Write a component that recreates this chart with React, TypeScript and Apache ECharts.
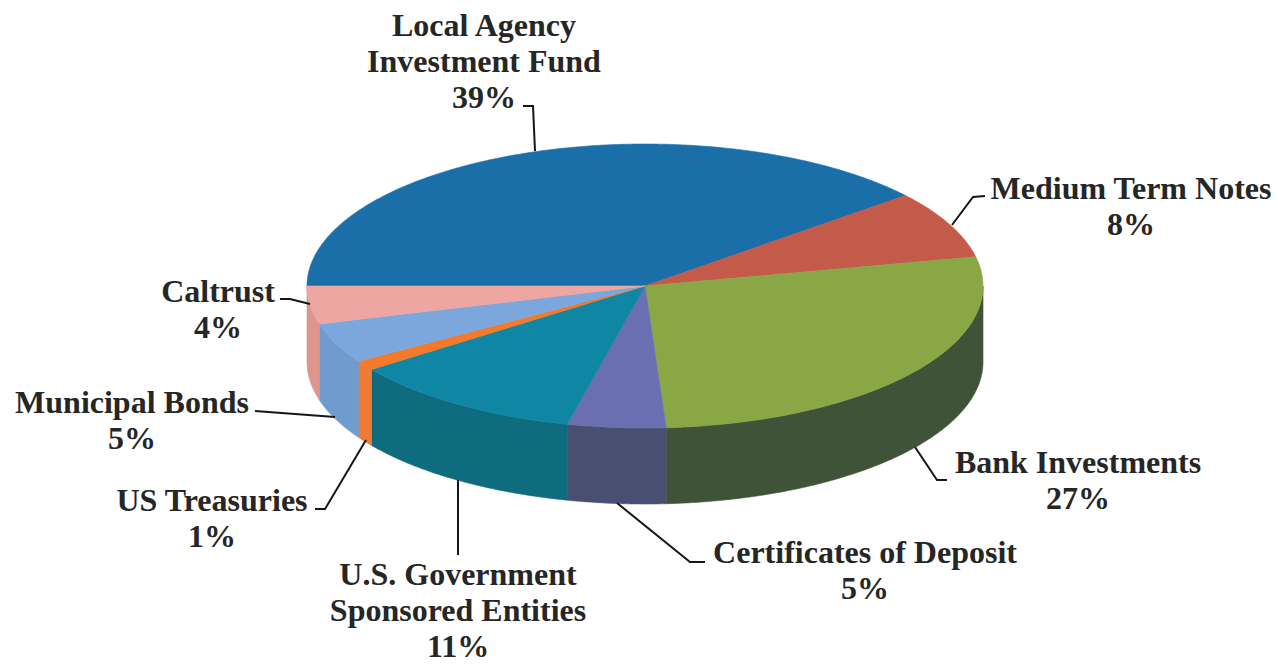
import React, { useEffect, useRef } from "react";
import * as echarts from "echarts";

const categories = [
  "Local Agency\nInvestment Fund",
  "Medium Term Notes",
  "Bank Investments",
  "Certificates of Deposit",
  "U.S. Government\nSponsored Entities",
  "US Treasuries",
  "Municipal Bonds",
  "Caltrust",
];
const shares = [39.0, 7.7, 27.3, 4.7, 11.3, 1.1, 4.6, 4.3];
const topColors = ["#1a6fa9", "#c45a4a", "#8aa746", "#696fb0", "#0f86a4", "#f27a2a", "#7ba7dc", "#eda6a1"];
const sideColors = ["#14537f", "#93433a", "#3f5338", "#494f70", "#0f6c7f", "#ee7b33", "#6f9bce", "#dd958d"];

const labelCenters = [
  [484, 61],
  [1131, 206],
  [1078, 480],
  [865, 570],
  [458, 610],
  [212, 518],
  [132, 420],
  [218, 309],
];
const leaders = [
  [[523, 106], [533, 106], [535, 151]],
  [[985, 196], [973, 197], [952, 225]],
  [[947, 480], [937, 480], [915, 447]],
  [[705, 562], [690, 562], [617, 503]],
  [[458, 555], [458, 480]],
  [[315, 509], [325, 509], [366, 440]],
  [[255, 411], [335, 417]],
  [[280, 299], [290, 299], [310, 304]],
];

const CX = 645;
const CY = 286;
const RX = 338;
const RY = 142;
const DEPTH = 76;
const START_DEG = 180;

const total = shares.reduce((a, b) => a + b, 0);
const rim = (deg: number, dy = 0) => {
  const t = (deg * Math.PI) / 180;
  return [CX + RX * Math.cos(t), CY + RY * Math.sin(t) + dy];
};
const arcPoints = (a: number, b: number, dy = 0) => {
  const n = Math.max(2, Math.ceil(Math.abs(b - a) * 2));
  const out: number[][] = [];
  for (let i = 0; i <= n; i++) out.push(rim(a + ((b - a) * i) / n, dy));
  return out;
};
const sliceRange = (i: number) => {
  const before = shares.slice(0, i).reduce((a, b) => a + b, 0);
  const a = START_DEG + (before / total) * 360;
  return [a, a + (shares[i] / total) * 360];
};

const renderSide = (params: any) => {
  const i = params.dataIndex;
  const [a, b] = sliceRange(i);
  const lo = Math.max(a, 360);
  const hi = Math.min(b, 540);
  if (hi <= lo) return { type: "group", children: [] };
  const fill = sideColors[i];
  return {
    type: "polygon",
    shape: { points: [...arcPoints(lo, hi, 0), ...arcPoints(hi, lo, DEPTH)] },
    style: { fill, stroke: fill, lineWidth: 0.6 },
  };
};
const renderTop = (params: any) => {
  const i = params.dataIndex;
  const [a, b] = sliceRange(i);
  const fill = topColors[i];
  return {
    type: "polygon",
    shape: { points: [[CX, CY], ...arcPoints(a, b)] },
    style: { fill, stroke: fill, lineWidth: 0.6 },
  };
};

const TEXT_STYLE = {
  fontFamily: "'Liberation Serif', serif",
  fontWeight: "bold",
  fontSize: 32,
  lineHeight: 36,
  fill: "#262626",
  align: "center",
  verticalAlign: "middle",
};

export default function App() {
  const ref = useRef<HTMLDivElement>(null);
  useEffect(() => {
    const chart = echarts.init(ref.current!, undefined, { renderer: "svg" });
    const data = shares.map((v, i) => ({ name: categories[i], value: v }));
    chart.setOption({
      animation: false,
      backgroundColor: "#ffffff",
      series: [
        { type: "custom", coordinateSystem: "none", renderItem: renderSide, data, silent: true, z: 1 },
        { type: "custom", coordinateSystem: "none", renderItem: renderTop, data, silent: true, z: 2 },
      ],
      graphic: [
        ...leaders.map((pts) => ({
          type: "polyline",
          z: 5,
          shape: { points: pts },
          style: { stroke: "#161616", lineWidth: 2, fill: "none" },
        })),
        ...categories.map((c, i) => ({
          type: "text",
          z: 6,
          x: labelCenters[i][0],
          y: labelCenters[i][1],
          style: { ...TEXT_STYLE, text: `${c}\n${Math.round(shares[i])}%` },
        })),
      ],
    });
    return () => chart.dispose();
  }, []);
  return <div ref={ref} style={{ position: "absolute", left: 0, top: 0, width: 1278, height: 664 }} />;
}
